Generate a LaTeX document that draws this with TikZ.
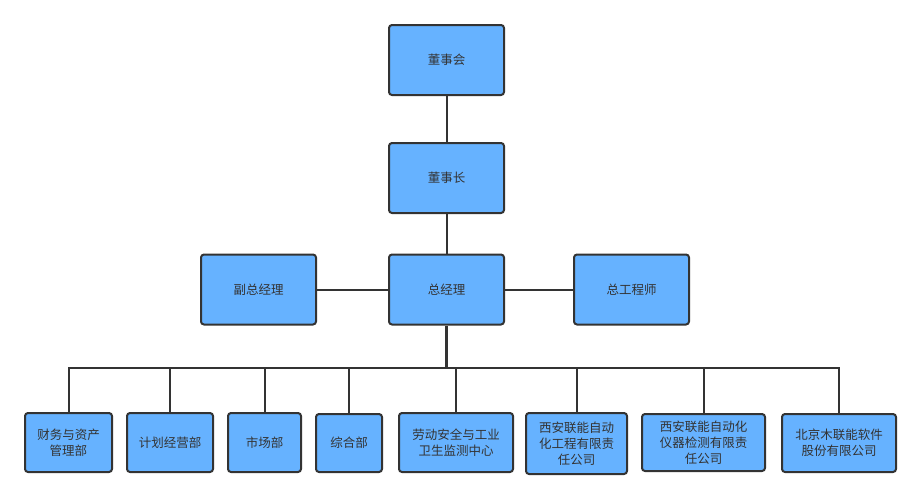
\documentclass[tikz,border=0pt]{standalone}
\usepackage{fontspec}
\setmainfont{Noto Sans CJK SC}
\definecolor{boxblue}{HTML}{66B2FF}
\definecolor{linegray}{HTML}{333333}

\begin{document}
\begin{tikzpicture}[x=1pt,y=-1pt,
	box/.style={draw=linegray, fill=boxblue, line width=2pt, rounded corners=3pt,
		minimum width=115pt, minimum height=70pt, inner sep=1pt, align=center,
		text=linegray, font=\fontsize{12.5}{16}\selectfont},
	dept/.style={box, minimum height=59pt},
	link/.style={draw=linegray, line width=2pt}]
	\useasboundingbox (0,0) rectangle (921,499);
	% upper levels
	\node[box] (dsh) at (446.5,60) {董事会};
	\node[box] (dsz) at (446.5,178) {董事长};
	\node[box] (zjl) at (446.5,289.5) {总经理};
	\node[box] (fzjl) at (258.5,289.5) {副总经理};
	\node[box] (zgcs) at (631.5,289.5) {总工程师};
	% departments
	\node[dept, minimum width=87pt] (cw) at (68.5,442.5) {财务与资产\\管理部};
	\node[dept, minimum width=86pt] (jh) at (170,442.5) {计划经营部};
	\node[dept, minimum width=73pt] (sc) at (264.5,442.5) {市场部};
	\node[dept, minimum width=66pt, minimum height=58pt] (zh) at (349,443) {综合部};
	\node[dept, minimum width=114pt] (ld) at (456,442.5) {劳动安全与工业\\卫生监测中心};
	\node[dept, minimum width=101pt, minimum height=61pt] (xagc) at (576.5,443.5) {西安联能自动\\化工程有限责\\任公司};
	\node[dept, minimum width=123pt, minimum height=57pt] (xayq) at (703.5,442.5) {西安联能自动化\\仪器检测有限责\\任公司};
	\node[dept, minimum width=114pt, minimum height=58pt] (bjm) at (839,443) {北京木联能软件\\股份有限公司};
	\coordinate (bus) at (446.5,368);
	% connectors
	\draw[link] (dsh) -- (dsz);
	\draw[link] (dsz) -- (zjl);
	\draw[link] (fzjl) -- (zjl);
	\draw[link] (zjl) -- (zgcs);
	\draw[link, line width=2.6pt] (zjl) -- (bus);
	\foreach \d in {cw,jh,sc,zh,ld,xagc,xayq,bjm}
		\draw[link] (bus) -| (\d);
\end{tikzpicture}
\end{document}
